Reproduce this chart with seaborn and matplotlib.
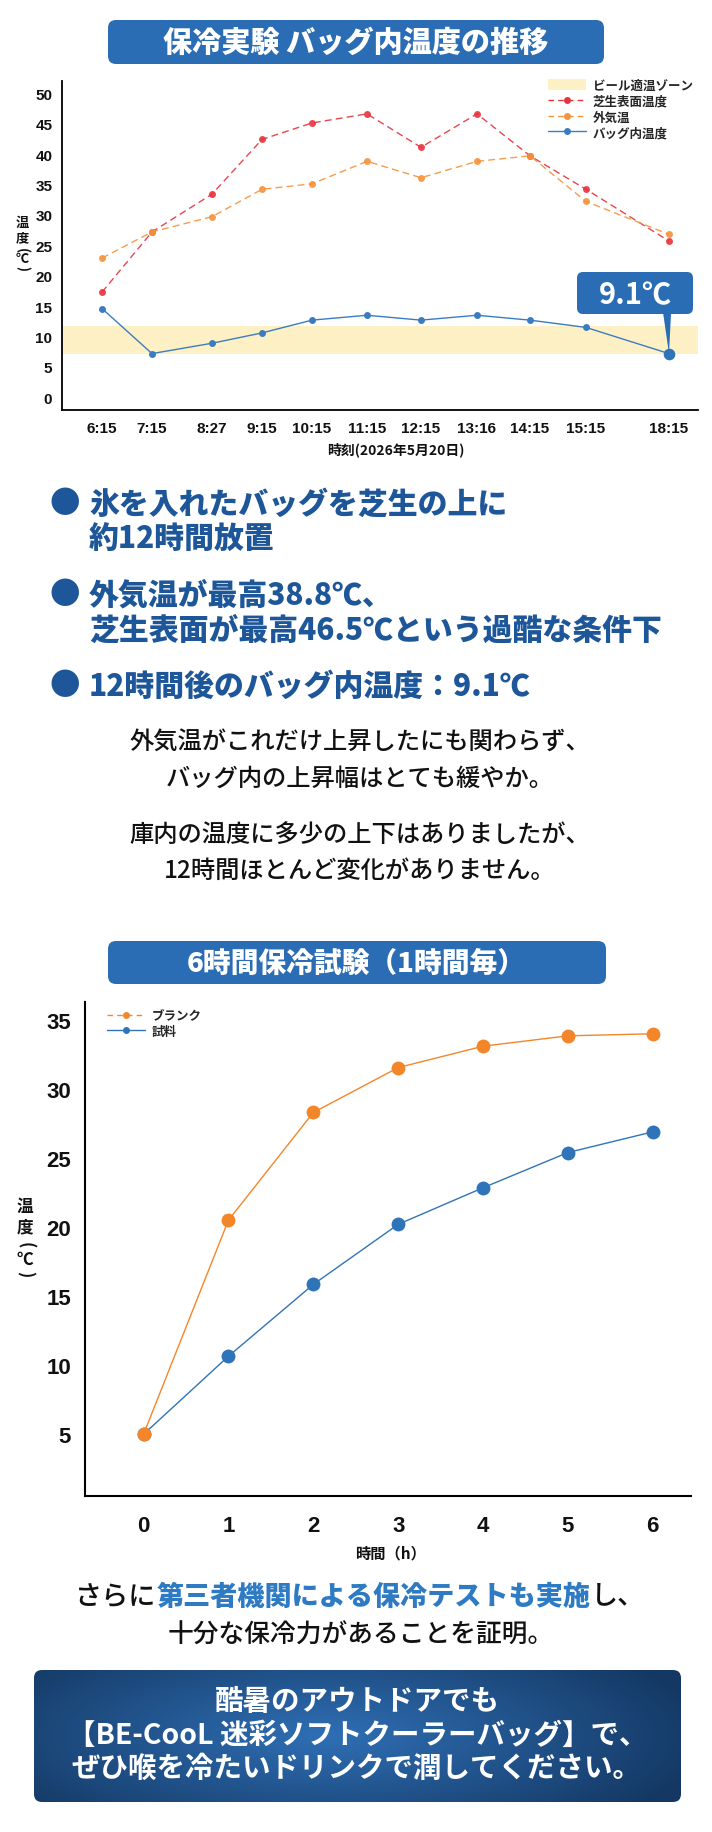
import numpy as np
import matplotlib
matplotlib.use("Agg")
import matplotlib.pyplot as plt
import seaborn as sns
from matplotlib.patches import FancyBboxPatch, Patch
from matplotlib.lines import Line2D
from matplotlib.colors import to_rgb

# ---- data: chart 1 (12h test on the lawn) ----
times = ["6:15", "7:15", "8:27", "9:15", "10:15", "11:15", "12:15", "13:16", "14:15", "15:15", "18:15"]
time_pos = [0, 1, 2.2, 3.2, 4.2, 5.3, 6.38, 7.5, 8.56, 9.68, 11.34]
turf_temp = [17.3, 27.2, 33.4, 42.4, 45.1, 46.6, 41.1, 46.6, 39.7, 34.2, 25.7]
outside_temp = [22.9, 27.2, 29.7, 34.2, 35.1, 38.8, 36.1, 38.8, 39.7, 32.2, 26.8]
bag_temp = [14.6, 7.2, 8.9, 10.6, 12.7, 13.5, 12.7, 13.5, 12.7, 11.5, 7.2]
beer_zone = (7.2, 11.8)
yticks1 = list(range(0, 51, 5))

# ---- data: chart 2 (6h test, hourly) ----
hours = [0, 1, 2, 3, 4, 5, 6]
blank_temp = [5.0, 20.5, 28.3, 31.55, 33.1, 33.85, 34.0]
sample_temp = [5.0, 10.65, 15.85, 20.2, 22.85, 25.4, 26.9]
yticks2 = list(range(5, 36, 5))

# ---- colours ----
BOX_BLUE = "#2a6db4"
BAND = "#fdf0c4"
RED = "#e8323c"
ORANGE = "#f5923a"
ORANGE2 = "#f4862a"
BLUE1 = "#3b7cc0"
BLUE2 = "#2f74b9"
TEXT_BLUE = "#1e5799"
HILITE = "#2e7bc4"
INK = "#111111"

W, H, DPI = 712, 1833, 100

sns.set_theme(style="white")
plt.rcParams['font.family'] = ['Noto Sans CJK JP', 'DejaVu Sans']

fig = plt.figure(figsize=(W / DPI, H / DPI), dpi=DPI)
fig.patch.set_facecolor("white")

# background axes in pixel coordinates
bg = fig.add_axes([0, 0, 1, 1], zorder=0)
bg.axis('off')


def round_box(x0, y0, x1, y1, color, r=8):
    p = FancyBboxPatch((x0, y0), x1 - x0, y1 - y0,
                       boxstyle=f"round,pad=0,rounding_size={r}",
                       fc=color, ec='none')
    bg.add_patch(p)
    return p


def vertical_label(x, ys, size):
    # stacked 温 / 度 / (℃) like the vertical label in the reference
    y_on, y_do, y_open, y_c, y_close = ys
    kw = dict(fontsize=size, fontweight="bold", ha="center", va="center", color=INK)
    bg.text(x, y_on, "温", **kw)
    bg.text(x, y_do, "度", **kw)
    bg.text(x, y_open, "(", rotation=-90, **kw)
    bg.text(x, y_c, "℃", **kw)
    bg.text(x, y_close, ")", rotation=-90, **kw)


# ---- title boxes ----
round_box(108, 21, 604, 65, BOX_BLUE)
bg.text(356, 43, "保冷実験 バッグ内温度の推移", color="white", fontsize=21,
        fontweight="heavy", ha="center", va="center")
round_box(108, 942, 606, 985, BOX_BLUE)
bg.text(356, 963.5, "6時間保冷試験（1時間毎）", color="white", fontsize=20,
        fontweight="heavy", ha="center", va="center")

# ---- chart 1 ----
ax1 = fig.add_axes([62 / W, 1 - 411 / H, 636 / W, 329 / H], zorder=2)
ax1.patch.set_alpha(0)
ax1.axhspan(beer_zone[0], beer_zone[1], color=BAND, lw=0, zorder=0)
sns.lineplot(x=time_pos, y=turf_temp, ax=ax1, color=RED, marker='o', markersize=5,
             markeredgewidth=0, linestyle=(0, (5, 3)), linewidth=1.0, alpha=0.9)
sns.lineplot(x=time_pos, y=outside_temp, ax=ax1, color=ORANGE, marker='o', markersize=5,
             markeredgewidth=0, linestyle=(0, (5, 3)), linewidth=1.0, alpha=0.9)
sns.lineplot(x=time_pos, y=bag_temp, ax=ax1, color=BLUE1, marker='o', markersize=5,
             markeredgewidth=0, linewidth=1.0)
sns.scatterplot(x=time_pos[-1:], y=bag_temp[-1:], ax=ax1, color=BLUE2, s=70,
                linewidth=0, zorder=7)

ax1.set_xlim(-0.8, 11.92)
ax1.set_ylim(-2.07, 52)
ax1.set_xticks(time_pos, times)
ax1.set_yticks(yticks1)
ax1.tick_params(axis='y', length=0, pad=7, labelsize=11)
ax1.tick_params(axis='x', length=0, pad=8, labelsize=11)
for lab in ax1.get_xticklabels() + ax1.get_yticklabels():
    lab.set_fontfamily('Liberation Sans')
    lab.set_fontweight('bold')
    lab.set_color(INK)
sns.despine(ax=ax1)
for s in ("left", "bottom"):
    ax1.spines[s].set_color("black")
    ax1.spines[s].set_linewidth(1.3)
ax1.set_xlabel("")
ax1.set_ylabel("")

leg1_handles = [
    Patch(fc=BAND, ec='none'),
    Line2D([], [], color=RED, ls=(0, (4, 3)), lw=1.0, marker='o', ms=5, mew=0),
    Line2D([], [], color=ORANGE, ls=(0, (4, 3)), lw=1.0, marker='o', ms=5, mew=0),
    Line2D([], [], color=BLUE1, lw=1.0, marker='o', ms=5, mew=0),
]
leg1_labels = ["ビール適温ゾーン", "芝生表面温度", "外気温", "バッグ内温度"]
ax1.legend(leg1_handles, leg1_labels, loc='upper left', bbox_to_anchor=(548, 80),
           bbox_transform=bg.transData, frameon=False, borderpad=0, borderaxespad=0,
           handlelength=3.0, handleheight=1.0, handletextpad=0.6, labelspacing=0.22,
           prop={'family': ['Noto Sans CJK JP', 'DejaVu Sans'], 'weight': 'bold', 'size': 9})

# 9.1 callout
callout = FancyBboxPatch((577, 273), 116, 42, boxstyle="round,pad=0,rounding_size=6",
                         transform=bg.transData, fc=BOX_BLUE, ec='none', clip_on=False, zorder=8)
ax1.add_patch(callout)
ax1.text(635, 295, "9.1℃", transform=bg.transData, color="white", fontsize=21,
         fontweight="bold", ha="center", va="center", zorder=9)
ax1.annotate("", xy=(time_pos[-1], bag_temp[-1]), xytext=(667, 312), textcoords=bg.transData,
             arrowprops=dict(arrowstyle="wedge,tail_width=0.3,shrink_factor=0.5",
                             fc=BOX_BLUE, ec='none', shrinkA=0, shrinkB=0, mutation_scale=20),
             zorder=8)

vertical_label(22, (223, 238, 250, 259, 268), 9.5)
bg.text(396, 450, "時刻(2026年5月20日)", fontsize=10, fontweight="bold", ha="center",
        va="center", color=INK)

# ---- bullet points ----
bullets = [
    (504, 539, "氷を入れたバッグを芝生の上に", "約12時間放置"),
    (595, 630, "外気温が最高38.8℃、", "芝生表面が最高46.5℃という過酷な条件下"),
    (686, None, "12時間後のバッグ内温度：9.1℃", None),
]
for y1, y2, l1, l2 in bullets:
    bg.text(65, y1, "●", fontsize=22, color=TEXT_BLUE, ha="center", va="center")
    bg.text(89, y1, l1, fontsize=21.5, fontweight="heavy", color=TEXT_BLUE, ha="left", va="center")
    if l2:
        bg.text(89, y2, l2, fontsize=21.5, fontweight="heavy", color=TEXT_BLUE, ha="left", va="center")

paras = [
    (742, "外気温がこれだけ上昇したにも関わらず、"),
    (779, "バッグ内の上昇幅はとても緩やか。"),
    (836, "庫内の温度に多少の上下はありましたが、"),
    (871, "12時間ほとんど変化がありません。"),
]
for y, t in paras:
    bg.text(360, y, t, fontsize=17.5, fontweight="medium", color=INK, ha="center", va="center")

# ---- chart 2 ----
ax2 = fig.add_axes([85 / W, 1 - 1497 / H, 606 / W, 494 / H], zorder=2)
ax2.patch.set_alpha(0)
sns.lineplot(x=hours, y=sample_temp, ax=ax2, color=BLUE2, marker='o', markersize=10,
             markeredgewidth=0, linewidth=1.0)
sns.lineplot(x=hours, y=blank_temp, ax=ax2, color=ORANGE2, marker='o', markersize=10,
             markeredgewidth=0, linewidth=1.0)
ax2.set_xlim(-0.69, 6.45)
ax2.set_ylim(0.53, 36.3)
ax2.set_xticks(hours)
ax2.set_yticks(yticks2)
ax2.tick_params(axis='y', length=0, pad=10, labelsize=16)
ax2.tick_params(axis='x', length=0, pad=14, labelsize=16)
for lab in ax2.get_xticklabels() + ax2.get_yticklabels():
    lab.set_fontfamily('Liberation Sans')
    lab.set_fontweight('bold')
    lab.set_color(INK)
sns.despine(ax=ax2)
for s in ("left", "bottom"):
    ax2.spines[s].set_color("black")
    ax2.spines[s].set_linewidth(1.5)
ax2.set_xlabel("")
ax2.set_ylabel("")

leg2_handles = [
    Line2D([], [], color=ORANGE2, ls=(0, (4, 3)), lw=1.0, marker='o', ms=5, mew=0),
    Line2D([], [], color=BLUE2, lw=1.0, marker='o', ms=5, mew=0),
]
ax2.legend(leg2_handles, ["ブランク", "試料"], loc='upper left', bbox_to_anchor=(107, 1010),
           bbox_transform=bg.transData, frameon=False, borderpad=0, borderaxespad=0,
           handlelength=3.0, handletextpad=0.6, labelspacing=0.2,
           prop={'family': ['Noto Sans CJK JP', 'DejaVu Sans'], 'weight': 'bold', 'size': 9})

vertical_label(25, (1207, 1227, 1245, 1260, 1274), 12)
bg.text(391, 1553, "時間（h）", fontsize=11, fontweight="bold", ha="center", va="center", color=INK)

# ---- closing lines, mixed colours ----
renderer = fig.canvas.get_renderer()
bg.set_xlim(0, W)
bg.set_ylim(H, 0)
parts = [("さらに", INK, "medium"), ("第三者機関による保冷テストも実施", HILITE, "heavy"),
         ("し、", INK, "medium")]
texts = [bg.text(0, 1597, t, color=c, fontweight=w, fontsize=19.5, ha="left", va="center")
         for t, c, w in parts]
widths = [t.get_window_extent(renderer).width for t in texts]
x = 360 - sum(widths) / 2
for t, w in zip(texts, widths):
    t.set_x(x)
    x += w
bg.text(361, 1635, "十分な保冷力があることを証明。", fontsize=18.5, fontweight="medium",
        color=INK, ha="center", va="center")

# ---- closing banner with gradient ----
bx0, by0, bx1, by1 = 34, 1671, 681, 1803
yy, xx = np.mgrid[0:1:120j, 0:1:400j]
d = np.sqrt(((xx - 0.45) / 0.6) ** 2 + ((yy - 0.5) / 0.9) ** 2)
d = np.clip(d, 0, 1)[..., None]
light = np.array(to_rgb("#2f6fb5"))
dark = np.array(to_rgb("#143863"))
grad = light * (1 - d) + dark * d
clip = FancyBboxPatch((bx0, by0), bx1 - bx0, by1 - by0, boxstyle="round,pad=0,rounding_size=8",
                      fc='none', ec='none', transform=bg.transData)
bg.add_patch(clip)
im = bg.imshow(grad, extent=[bx0, bx1, by1, by0], aspect='auto', zorder=1)
im.set_clip_path(clip)
banner = ["酷暑のアウトドアでも", "【BE-CooL 迷彩ソフトクーラーバッグ】で、", "ぜひ喉を冷たいドリンクで潤してください。"]
for y, t in zip([1702, 1736, 1769], banner):
    bg.text(357, y, t, fontsize=20.5, fontweight="bold", color="white", ha="center", va="center", zorder=3)

bg.set_xlim(0, W)
bg.set_ylim(H, 0)

fig.savefig("out.png", dpi=DPI)
